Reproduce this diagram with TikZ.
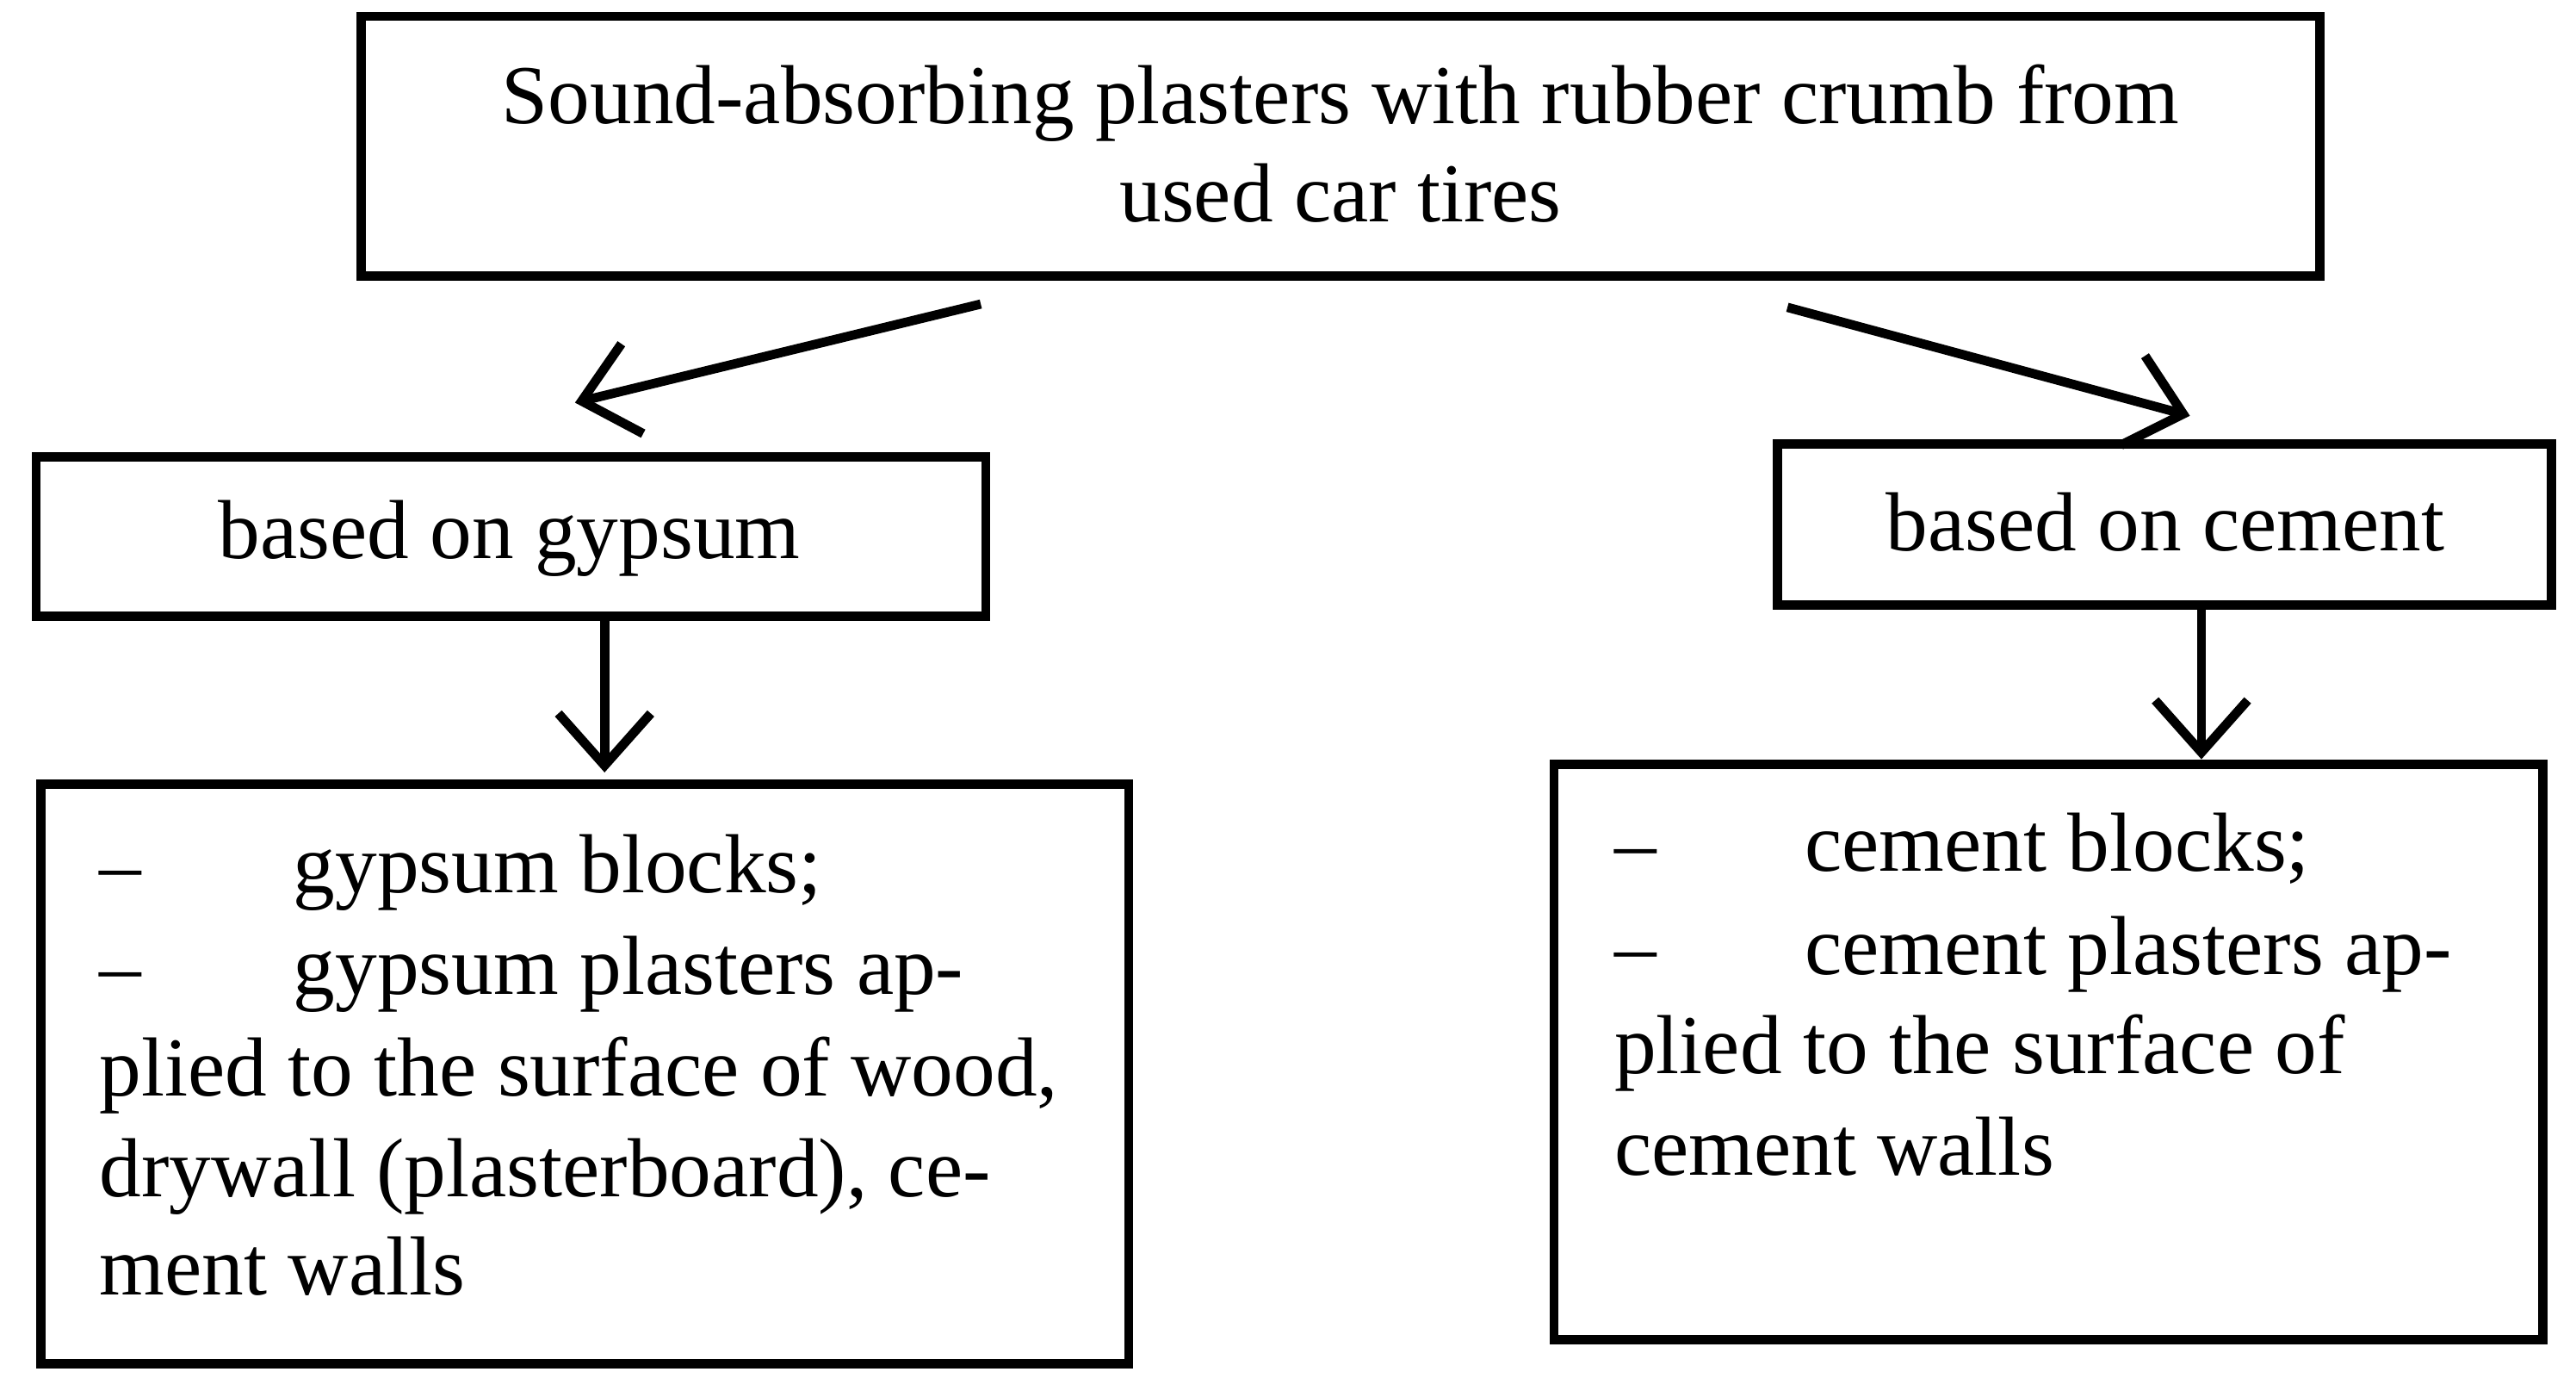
\documentclass[tikz,border=0pt]{standalone}
\usepackage{fontspec}
\setmainfont{Liberation Serif}
\usetikzlibrary{arrows.meta}
\begin{document}
\begin{tikzpicture}[x=0.01cm,y=-0.01cm,
  box/.style={draw,line width=1.6pt},
  arr/.style={line width=1.6pt,-{Straight Barb[length=9pt,width=16pt,line width=1.6pt]}},
  txt/.style={font=\fontsize{14.5}{17}\selectfont,inner sep=0pt},
  lt/.style={txt,anchor=base west}]
\useasboundingbox (0,0) rectangle (1568,838);
\draw[box] (220,10) rectangle (1412,168);
\node[txt,anchor=base] (t1) at (816,75) {Sound-absorbing plasters with rubber crumb from};
\node[txt,anchor=base] (t2) at (816,135) {used car tires};
\draw[box] (22,278) rectangle (600,375);
\node[txt,anchor=base] (g) at (310,340) {based on gypsum};
\draw[box] (1082,270) rectangle (1553,368);
\node[txt,anchor=base] (c) at (1318,335) {based on cement};
\draw[box] (25,477) rectangle (687,830);
\draw[box] (946,465) rectangle (1548,815);
\coordinate (a1) at (597,185); \coordinate (b1) at (350,245);
\coordinate (a2) at (1088,187); \coordinate (b2) at (1333,253);
\coordinate (a3) at (368,375); \coordinate (b3) at (368,470);
\coordinate (a4) at (1340,368); \coordinate (b4) at (1340,462);
\draw[arr] (a1) -- (b1);
\draw[arr] (a2) -- (b2);
\draw[arr] (a3) -- (b3);
\draw[arr] (a4) -- (b4);
\node[lt] (l1d) at (60,543) {–};
\node[lt] (l1) at (178,543) {gypsum blocks;};
\node[lt] (l2d) at (60,605) {–};
\node[lt] (l2) at (178,605) {gypsum plasters ap-};
\node[lt] (l3) at (60,667) {plied to the surface of wood,};
\node[lt] (l4) at (60,728) {drywall (plasterboard), ce-};
\node[lt] (l5) at (60,788) {ment walls};
\node[lt] (r1d) at (982,530) {–};
\node[lt] (r1) at (1098,530) {cement blocks;};
\node[lt] (r2d) at (982,593) {–};
\node[lt] (r2) at (1098,593) {cement plasters ap-};
\node[lt] (r3) at (982,653) {plied to the surface of};
\node[lt] (r4) at (982,715) {cement walls};
\end{tikzpicture}
\end{document}
